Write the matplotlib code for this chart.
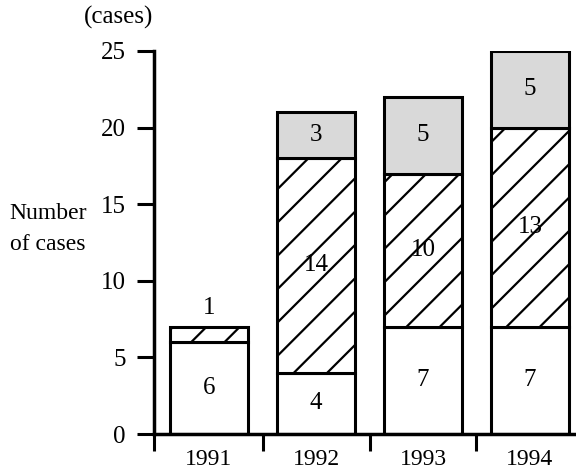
import matplotlib
matplotlib.use("Agg")
import matplotlib.pyplot as plt
import numpy as np

years = ["1991", "1992", "1993", "1994"]
white_vals = [6, 4, 7, 7]
hatched_vals = [1, 14, 10, 13]
dotted_vals = [0, 3, 5, 5]
y_ticks = [0, 5, 10, 15, 20, 25]

plt.rcParams['font.family'] = ['Liberation Serif', 'DejaVu Serif']
plt.rcParams['hatch.linewidth'] = 1.6

fig = plt.figure(figsize=(5.76, 4.72), dpi=100)
ax = fig.add_axes([0.2674, 0.0805, 0.7326, 0.8115])

x = np.arange(len(years))
w = 0.73
lw = 2.2
white = np.array(white_vals)
hatched = np.array(hatched_vals)
dotted = np.array(dotted_vals)

ax.bar(x, white, w, color='white', edgecolor='black', linewidth=lw, zorder=2)
ax.bar(x, hatched, w, bottom=white, color='white', edgecolor='black',
       linewidth=lw, hatch='/', zorder=2)
mask = dotted > 0
ax.bar(x[mask], dotted[mask], w, bottom=(white + hatched)[mask], color='#d9d9d9',
       edgecolor='black', linewidth=lw, zorder=2)

fs = 18
for i in range(len(years)):
    ax.text(x[i], white[i] / 2, str(white[i]), ha='center', va='center', fontsize=fs, zorder=3)
    if hatched[i] <= 2:
        ax.text(x[i], white[i] + hatched[i] + 1.2, str(hatched[i]), ha='center', va='center', fontsize=fs, zorder=3)
    else:
        ax.text(x[i], white[i] + hatched[i] / 2, str(hatched[i]), ha='center', va='center', fontsize=fs, zorder=3)
    if dotted[i] > 0:
        ax.text(x[i], white[i] + hatched[i] + dotted[i] / 2, str(dotted[i]), ha='center', va='center', fontsize=fs, zorder=3)
    ax.text(x[i], -0.066, years[i], transform=ax.get_xaxis_transform(), ha='center', va='center', fontsize=17)

ax.set_xlim(-0.514, 3.43)
ax.set_ylim(0, 25)
ax.set_yticks(y_ticks)
ax.set_yticklabels([str(t) for t in y_ticks], fontsize=fs)
ax.set_xticks([-0.514, 0.5, 1.5, 2.5])
ax.set_xticklabels([])
ax.tick_params(axis='both', direction='out', length=12.5, width=2.2, color='black')
ax.tick_params(axis='y', pad=8)
for s in ['top', 'right']:
    ax.spines[s].set_visible(False)
for s in ['left', 'bottom']:
    ax.spines[s].set_linewidth(2.5)

fig.text(0.145, 0.962, "(cases)", ha='left', va='center', fontsize=fs)
fig.text(0.017, 0.515, "Number\nof cases", ha='left', va='center', fontsize=17, linespacing=1.6)

fig.savefig("out.png", dpi=100)
